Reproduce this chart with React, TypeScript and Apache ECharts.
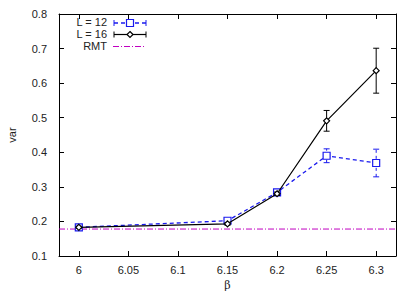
import React, { useEffect, useRef } from "react";
import * as echarts from "echarts";

const beta = [6, 6.15, 6.2, 6.25, 6.3];
const l12 = [0.183, 0.202, 0.284, 0.39, 0.369];
const l12Err = [0.004, 0.006, 0.006, 0.02, 0.04];
const l16 = [0.183, 0.193, 0.28, 0.491, 0.636];
const l16Err = [0.003, 0.004, 0.005, 0.03, 0.065];
const rmt = 0.178;
const xTicks = [6, 6.05, 6.1, 6.15, 6.2, 6.25, 6.3];
const legendNames = ["L = 12", "L = 16", "RMT"];

const FONT = "Liberation Sans";

function errRender(color: string, dashed: boolean) {
  return (params: any, api: any) => {
    const x = api.value(0);
    const lo = api.coord([x, api.value(1)]);
    const hi = api.coord([x, api.value(2)]);
    const style = { stroke: color, lineWidth: 1, lineDash: dashed ? [3, 3] : null };
    return {
      type: "group",
      children: [
        { type: "line", shape: { x1: lo[0], y1: lo[1], x2: hi[0], y2: hi[1] }, style },
        { type: "line", shape: { x1: lo[0] - 3, y1: lo[1], x2: lo[0] + 3, y2: lo[1] }, style: { stroke: color, lineWidth: 1 } },
        { type: "line", shape: { x1: hi[0] - 3, y1: hi[1], x2: hi[0] + 3, y2: hi[1] }, style: { stroke: color, lineWidth: 1 } },
      ],
    };
  };
}

export default function App() {
  const ref = useRef<HTMLDivElement>(null);
  useEffect(() => {
    const chart = echarts.init(ref.current!, null, { renderer: "svg" });
    const blue = "#1a1aee";
    const black = "#000000";
    const mag = "#c000c0";
    const axisCommon = {
      axisLine: { lineStyle: { color: "#000", width: 1 } },
      splitLine: { show: false },
    };
    chart.setOption({
      animation: false,
      backgroundColor: "#fff",
      textStyle: { fontFamily: FONT },
      grid: { left: 59, right: 19, top: 14, bottom: 35, outerBoundsMode: "none", containLabel: false },
      xAxis: [
        {
          type: "value",
          min: 5.98,
          max: 6.32,
          position: "bottom",
          ...axisCommon,
          axisTick: { inside: true, length: 5, customValues: xTicks, lineStyle: { color: "#000" } },
          axisLabel: {
            customValues: xTicks,
            color: "#222",
            fontSize: 11,
            fontFamily: FONT,
            margin: 8,
            formatter: (v: number) => String(Math.round(v * 100) / 100),
          },
          name: "β",
          nameLocation: "middle",
          nameGap: 19,
          nameTextStyle: { color: "#222", fontSize: 11, fontFamily: "DejaVu Serif", lineHeight: 12 },
        },
        {
          type: "value",
          min: 5.98,
          max: 6.32,
          position: "top",
          ...axisCommon,
          axisTick: { inside: true, length: 5, customValues: xTicks, lineStyle: { color: "#000" } },
          axisLabel: { show: false },
        },
      ],
      yAxis: [
        {
          type: "value",
          min: 0.1,
          max: 0.8,
          interval: 0.1,
          position: "left",
          ...axisCommon,
          axisTick: { inside: true, length: 5, lineStyle: { color: "#000" } },
          axisLabel: {
            color: "#222",
            fontSize: 11,
            fontFamily: FONT,
            margin: 12,
            formatter: (v: number) => v.toFixed(1),
          },
          name: "var",
          nameLocation: "middle",
          nameGap: 42,
          nameRotate: 90,
          nameTextStyle: { color: "#222", fontSize: 11, fontFamily: FONT },
        },
        {
          type: "value",
          min: 0.1,
          max: 0.8,
          interval: 0.1,
          position: "right",
          ...axisCommon,
          axisTick: { inside: true, length: 5, lineStyle: { color: "#000" } },
          axisLabel: { show: false },
        },
      ],
      series: [
        {
          type: "line",
          name: "RMT",
          data: [
            [5.98, rmt],
            [6.32, rmt],
          ],
          symbol: "none",
          lineStyle: { color: mag, width: 1, type: [6, 2, 1, 2] },
          z: 1,
        },
        {
          type: "custom",
          name: "L12err",
          renderItem: errRender(blue, true),
          data: beta.map((b, i) => [b, l12[i] - l12Err[i], l12[i] + l12Err[i]]),
          encode: { x: 0, y: [1, 2] },
          z: 2,
        },
        {
          type: "line",
          name: "L = 12",
          data: beta.map((b, i) => [b, l12[i]]),
          symbol: "rect",
          symbolSize: 7,
          itemStyle: { color: "#fff", borderColor: blue, borderWidth: 1.2 },
          lineStyle: { color: blue, width: 1.3, type: [4, 3] },
          z: 3,
        },
        {
          type: "custom",
          name: "L16err",
          renderItem: errRender(black, false),
          data: beta.map((b, i) => [b, l16[i] - l16Err[i], l16[i] + l16Err[i]]),
          encode: { x: 0, y: [1, 2] },
          z: 4,
        },
        {
          type: "line",
          name: "L = 16",
          data: beta.map((b, i) => [b, l16[i]]),
          symbol: "diamond",
          symbolSize: 6,
          itemStyle: { color: "#fff", borderColor: black, borderWidth: 1.2 },
          lineStyle: { color: black, width: 1.2 },
          z: 5,
        },
      ],
      graphic: [
        { type: "text", right: 415 - 107, top: 16, style: { text: legendNames[0], fill: "#222", font: `11px "${FONT}"`, textAlign: "right" } },
        { type: "text", right: 415 - 107, top: 28, style: { text: legendNames[1], fill: "#222", font: `11px "${FONT}"`, textAlign: "right" } },
        { type: "text", right: 415 - 107, top: 40, style: { text: legendNames[2], fill: "#222", font: `11px "${FONT}"`, textAlign: "right" } },
        { type: "line", shape: { x1: 114, y1: 23, x2: 146, y2: 23 }, style: { stroke: blue, lineWidth: 1.3, lineDash: [4, 3] } },
        { type: "line", shape: { x1: 114, y1: 20, x2: 114, y2: 26 }, style: { stroke: blue, lineWidth: 1 } },
        { type: "line", shape: { x1: 146, y1: 20, x2: 146, y2: 26 }, style: { stroke: blue, lineWidth: 1 } },
        { type: "rect", shape: { x: 126.5, y: 19.5, width: 7, height: 7 }, style: { fill: "#fff", stroke: blue, lineWidth: 1.2 } },
        { type: "line", shape: { x1: 114, y1: 34.5, x2: 146, y2: 34.5 }, style: { stroke: black, lineWidth: 1.2 } },
        { type: "line", shape: { x1: 114, y1: 31.5, x2: 114, y2: 37.5 }, style: { stroke: black, lineWidth: 1 } },
        { type: "line", shape: { x1: 146, y1: 31.5, x2: 146, y2: 37.5 }, style: { stroke: black, lineWidth: 1 } },
        { type: "polygon", shape: { points: [[130, 31.5], [133, 34.5], [130, 37.5], [127, 34.5]] }, style: { fill: "#fff", stroke: black, lineWidth: 1.2 } },
        { type: "line", shape: { x1: 113, y1: 46.5, x2: 146, y2: 46.5 }, style: { stroke: mag, lineWidth: 1, lineDash: [6, 2, 1, 2] } },
      ],
    });
    return () => chart.dispose();
  }, []);
  return <div ref={ref} style={{ width: 415, height: 291, position: "absolute", left: 0, top: 0 }} />;
}
